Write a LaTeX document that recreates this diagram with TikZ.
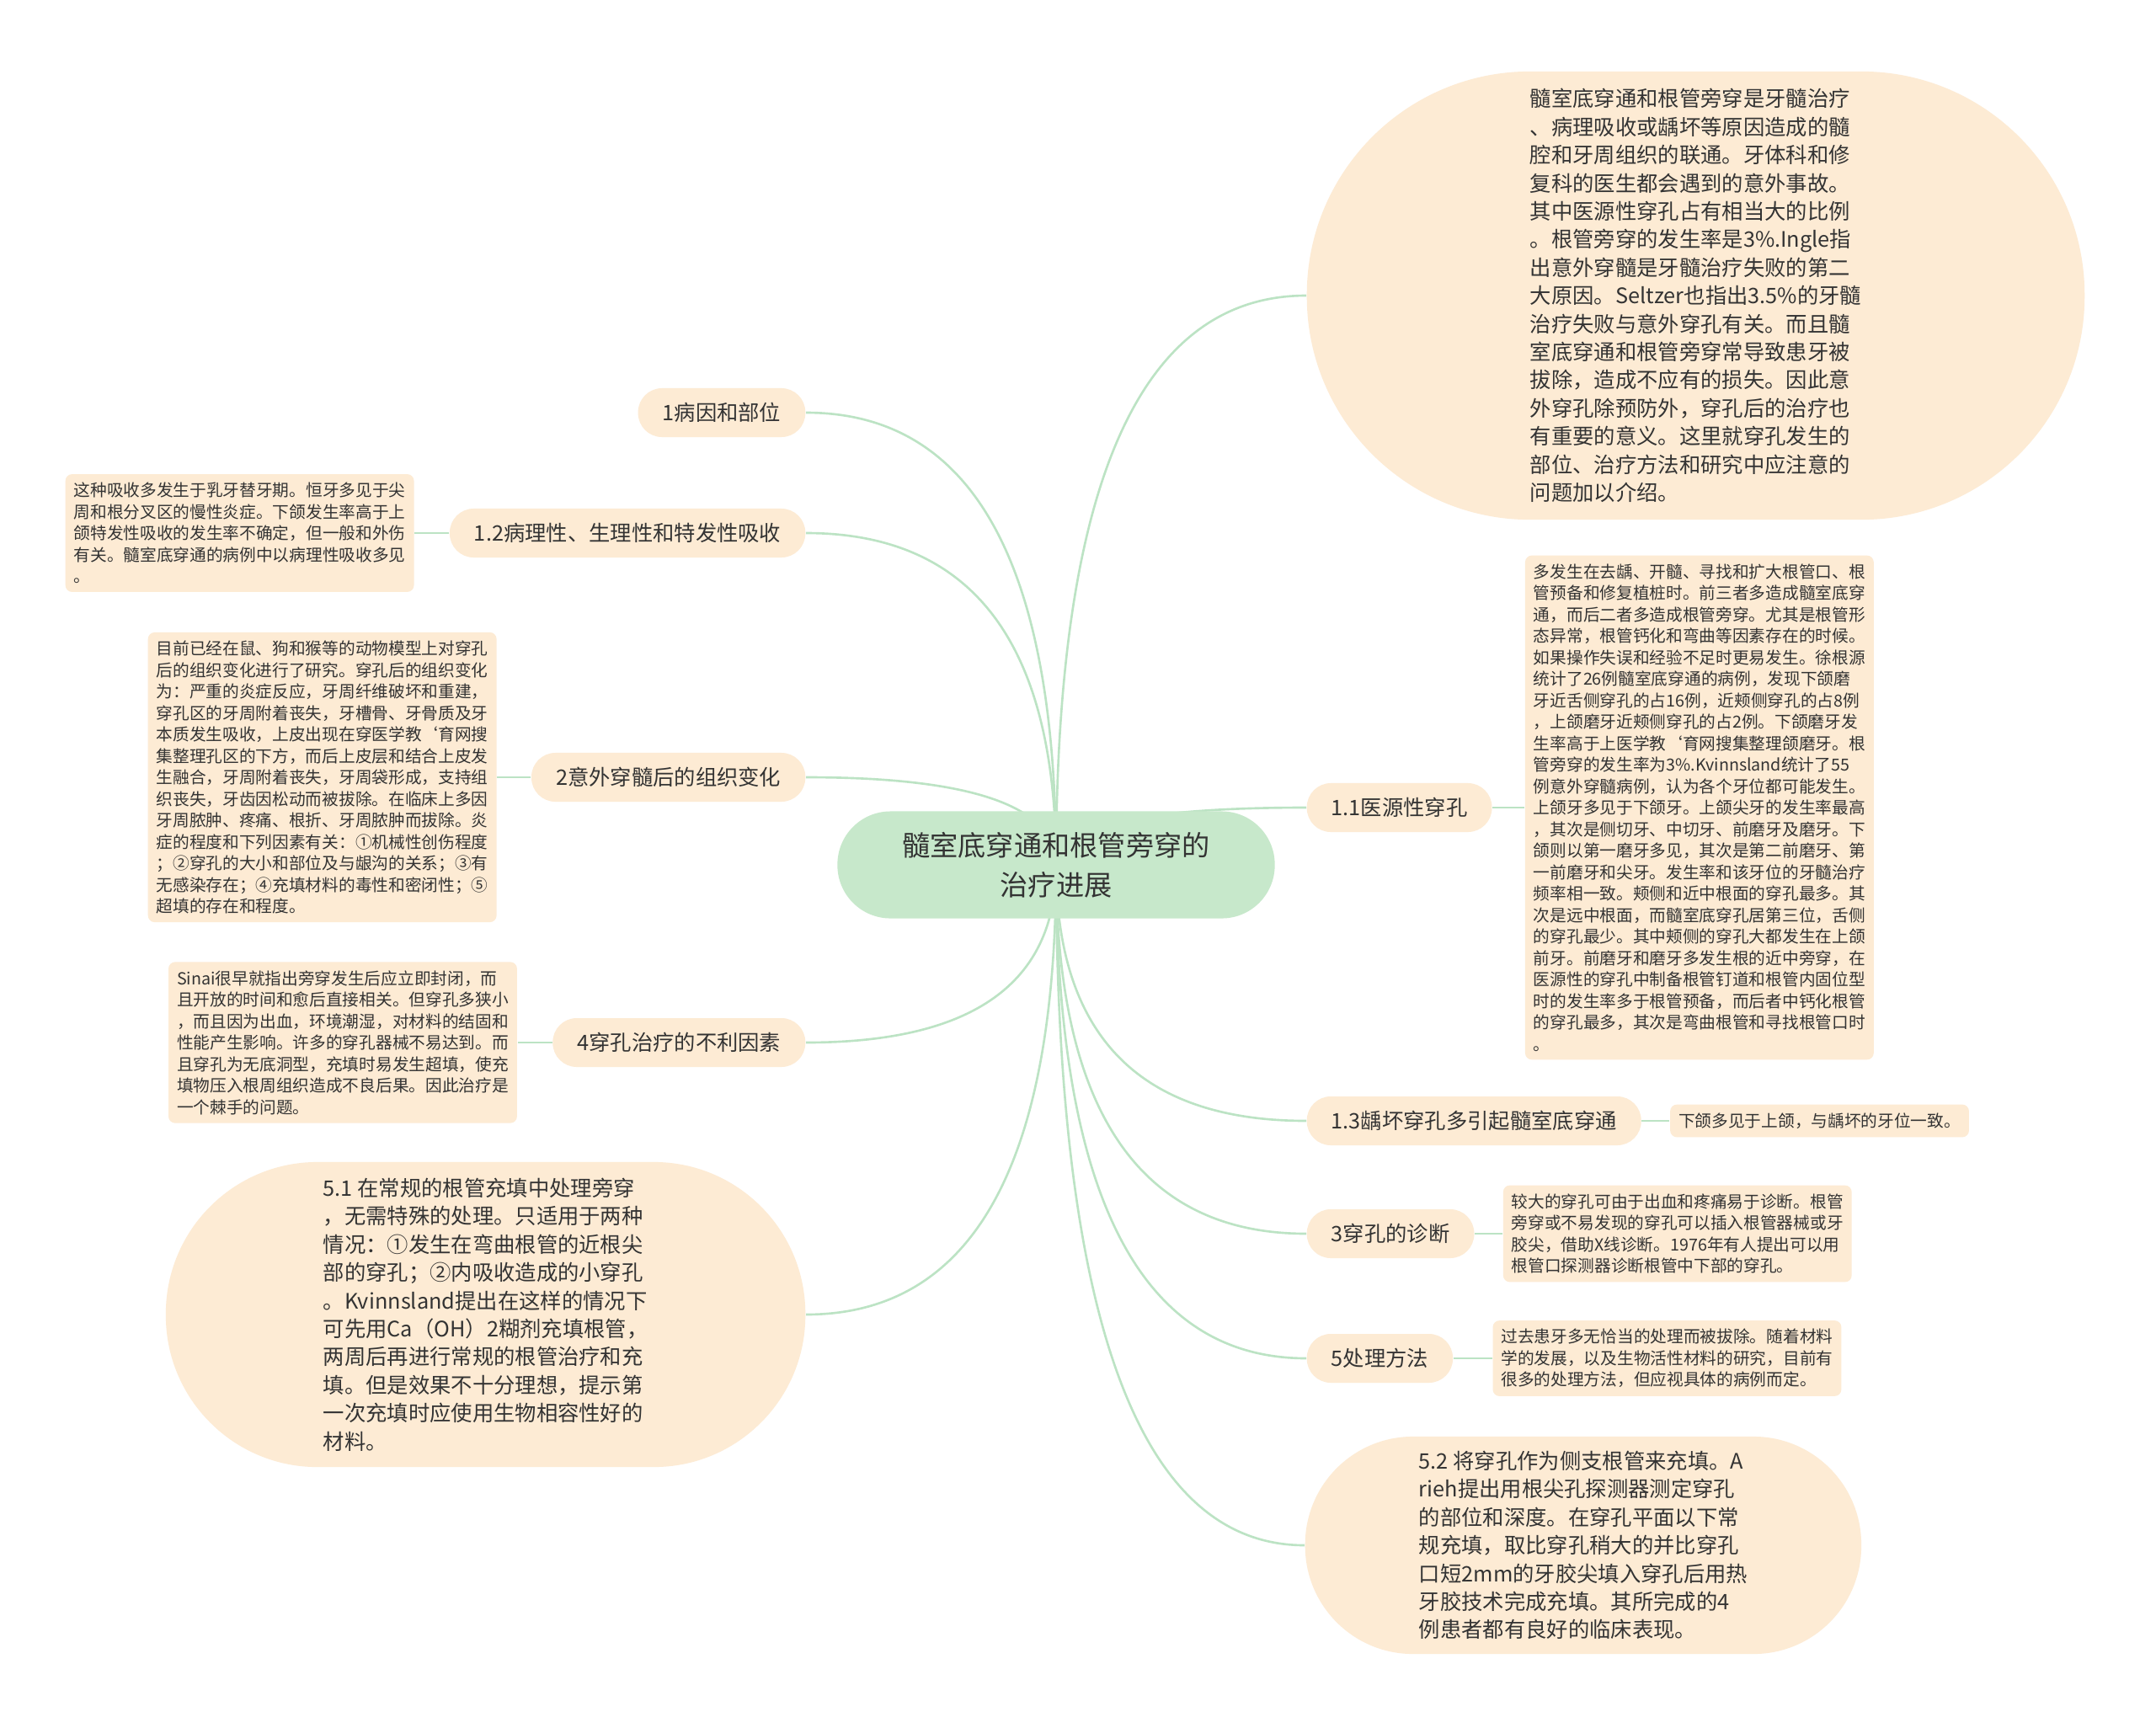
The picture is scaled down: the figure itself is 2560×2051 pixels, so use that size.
\documentclass[tikz,border=0pt]{standalone}
\usepackage{fontspec}
\setmainfont{Noto Sans CJK SC}
\usetikzlibrary{positioning,backgrounds,calc}
\definecolor{rootfill}{HTML}{C7E8CB}
\definecolor{topicfill}{HTML}{FDEBD4}
\definecolor{linkcol}{HTML}{BCE3C4}
\definecolor{inkcol}{HTML}{333333}
\tikzset{
  rootnode/.style={rectangle, rounded corners=0.63cm, fill=rootfill, text=inkcol, align=center,
    minimum width=5.19cm, minimum height=1.27cm, font=\fontsize{9.45}{13.2}\selectfont},
  topicnode/.style={rectangle, rounded corners=0.285cm, fill=topicfill, text=inkcol,
    inner xsep=0.29cm, minimum height=0.58cm, font=\fontsize{7.2}{9.5}\selectfont},
  longnode/.style={rectangle, fill=topicfill, text=inkcol, align=left,
    font=\fontsize{7.2}{9.5}\selectfont},
  notebox/.style={rectangle, rounded corners=0.08cm, fill=topicfill, text=inkcol,
    align=left, inner sep=0.1cm, font=\fontsize{5.6}{7.25}\selectfont},
  link/.style={draw=linkcol, line width=0.75pt}
}

\begin{document}
\begin{tikzpicture}[x=0.01cm, y=-0.01cm]
    \useasboundingbox (0,0) rectangle (2560,2051);
    % centre
    \node[rootnode] (root) at (1254,1027) {髓室底穿通和根管旁穿的\\治疗进展};

    % left side
    \node[topicnode, anchor=east] (n1) at (957,490) {1病因和部位};
    \node[topicnode, anchor=east] (n12) at (957,633) {1.2病理性、生理性和特发性吸收};
    \node[notebox, left=0.41cm of n12] (n12note) {这种吸收多发生于乳牙替牙期。恒牙多见于尖\\周和根分叉区的慢性炎症。下颌发生率高于上\\颌特发性吸收的发生率不确定，但一般和外伤\\有关。髓室底穿通的病例中以病理性吸收多见\\。};
    \node[topicnode, anchor=east] (n2) at (957,923) {2意外穿髓后的组织变化};
    \node[notebox, left=0.40cm of n2] (n2note) {目前已经在鼠、狗和猴等的动物模型上对穿孔\\后的组织变化进行了研究。穿孔后的组织变化\\为：严重的炎症反应，牙周纤维破坏和重建，\\穿孔区的牙周附着丧失，牙槽骨、牙骨质及牙\\本质发生吸收，上皮出现在穿医学教\symbol{96}育网搜\\集整理孔区的下方，而后上皮层和结合上皮发\\生融合，牙周附着丧失，牙周袋形成，支持组\\织丧失，牙齿因松动而被拔除。在临床上多因\\牙周脓肿、疼痛、根折、牙周脓肿而拔除。炎\\症的程度和下列因素有关：①机械性创伤程度\\；②穿孔的大小和部位及与龈沟的关系；③有\\无感染存在；④充填材料的毒性和密闭性；⑤\\超填的存在和程度。};
    \node[topicnode, anchor=east] (n4) at (957,1238) {4穿孔治疗的不利因素};
    \node[notebox, left=0.41cm of n4] (n4note) {Sinai很早就指出旁穿发生后应立即封闭，而\\且开放的时间和愈后直接相关。但穿孔多狭小\\，而且因为出血，环境潮湿，对材料的结固和\\性能产生影响。许多的穿孔器械不易达到。而\\且穿孔为无底洞型，充填时易发生超填，使充\\填物压入根周组织造成不良后果。因此治疗是\\一个棘手的问题。};
    \node[longnode, anchor=east, rounded corners=1.8cm, minimum width=7.59cm, minimum height=3.62cm] (n51) at (957,1561) {5.1 在常规的根管充填中处理旁穿\\，无需特殊的处理。只适用于两种\\情况：①发生在弯曲根管的近根尖\\部的穿孔；②内吸收造成的小穿孔\\。Kvinnsland提出在这样的情况下\\可先用Ca（OH）2糊剂充填根管，\\两周后再进行常规的根管治疗和充\\填。但是效果不十分理想，提示第\\一次充填时应使用生物相容性好的\\材料。};

    % right side
    \node[longnode, anchor=west, rounded corners=2.65cm, minimum width=9.23cm, minimum height=5.32cm] (intro) at (1551,351) {髓室底穿通和根管旁穿是牙髓治疗\\、病理吸收或龋坏等原因造成的髓\\腔和牙周组织的联通。牙体科和修\\复科的医生都会遇到的意外事故。\\其中医源性穿孔占有相当大的比例\\。根管旁穿的发生率是3\%.Ingle指\\出意外穿髓是牙髓治疗失败的第二\\大原因。Seltzer也指出3.5\%的牙髓\\治疗失败与意外穿孔有关。而且髓\\室底穿通和根管旁穿常导致患牙被\\拔除，造成不应有的损失。因此意\\外穿孔除预防外，穿孔后的治疗也\\有重要的意义。这里就穿孔发生的\\部位、治疗方法和研究中应注意的\\问题加以介绍。};
    \node[topicnode, anchor=west] (n11) at (1551,959) {1.1医源性穿孔};
    \node[notebox, right=0.38cm of n11] (n11note) {多发生在去龋、开髓、寻找和扩大根管口、根\\管预备和修复植桩时。前三者多造成髓室底穿\\通，而后二者多造成根管旁穿。尤其是根管形\\态异常，根管钙化和弯曲等因素存在的时候。\\如果操作失误和经验不足时更易发生。徐根源\\统计了26例髓室底穿通的病例，发现下颌磨\\牙近舌侧穿孔的占16例，近颊侧穿孔的占8例\\，上颌磨牙近颊侧穿孔的占2例。下颌磨牙发\\生率高于上医学教\symbol{96}育网搜集整理颌磨牙。根\\管旁穿的发生率为3\%.Kvinnsland统计了55\\例意外穿髓病例，认为各个牙位都可能发生。\\上颌牙多见于下颌牙。上颌尖牙的发生率最高\\，其次是侧切牙、中切牙、前磨牙及磨牙。下\\颌则以第一磨牙多见，其次是第二前磨牙、第\\一前磨牙和尖牙。发生率和该牙位的牙髓治疗\\频率相一致。颊侧和近中根面的穿孔最多。其\\次是远中根面，而髓室底穿孔居第三位，舌侧\\的穿孔最少。其中颊侧的穿孔大都发生在上颌\\前牙。前磨牙和磨牙多发生根的近中旁穿，在\\医源性的穿孔中制备根管钉道和根管内固位型\\时的发生率多于根管预备，而后者中钙化根管\\的穿孔最多，其次是弯曲根管和寻找根管口时\\。};
    \node[topicnode, anchor=west] (n13) at (1551,1331) {1.3龋坏穿孔多引起髓室底穿通};
    \node[notebox, right=0.33cm of n13] (n13note) {下颌多见于上颌，与龋坏的牙位一致。};
    \node[topicnode, anchor=west] (n3) at (1551,1465) {3穿孔的诊断};
    \node[notebox, right=0.33cm of n3] (n3note) {较大的穿孔可由于出血和疼痛易于诊断。根管\\旁穿或不易发现的穿孔可以插入根管器械或牙\\胶尖，借助X线诊断。1976年有人提出可以用\\根管口探测器诊断根管中下部的穿孔。};
    \node[topicnode, anchor=west] (n5) at (1551,1613) {5处理方法};
    \node[notebox, right=0.46cm of n5] (n5note) {过去患牙多无恰当的处理而被拔除。随着材料\\学的发展，以及生物活性材料的研究，目前有\\很多的处理方法，但应视具体的病例而定。};
    \node[longnode, anchor=west, rounded corners=1.28cm, minimum width=6.60cm, minimum height=2.58cm] (n52) at (1549,1835) {5.2 将穿孔作为侧支根管来充填。A\\rieh提出用根尖孔探测器测定穿孔\\的部位和深度。在穿孔平面以下常\\规充填，取比穿孔稍大的并比穿孔\\口短2mm的牙胶尖填入穿孔后用热\\牙胶技术完成充填。其所完成的4\\例患者都有良好的临床表现。};

    \begin{scope}[on background layer]
      \fill[white] (0,0) rectangle (2560,2051);
      % branches
      \foreach \t in {n1,n12,n2,n4,n51}
        \draw[link] (root.center)
          .. controls ($(root.center)!0.667!(root.center |- \t.east)$)
          and ($(\t.east)!0.667!(root.center |- \t.east)$) .. (\t.east);
      \foreach \t in {intro,n11,n13,n3,n5,n52}
        \draw[link] (root.center)
          .. controls ($(root.center)!0.667!(root.center |- \t.west)$)
          and ($(\t.west)!0.667!(root.center |- \t.west)$) .. (\t.west);
      % notes
      \foreach \t in {n12,n2,n4}
        \draw[link] (\t.west) -- (\t note.east);
      \foreach \t in {n11,n13,n3,n5}
        \draw[link] (\t.east) -- (\t note.west);
    \end{scope}
  \end{tikzpicture}
\end{document}
